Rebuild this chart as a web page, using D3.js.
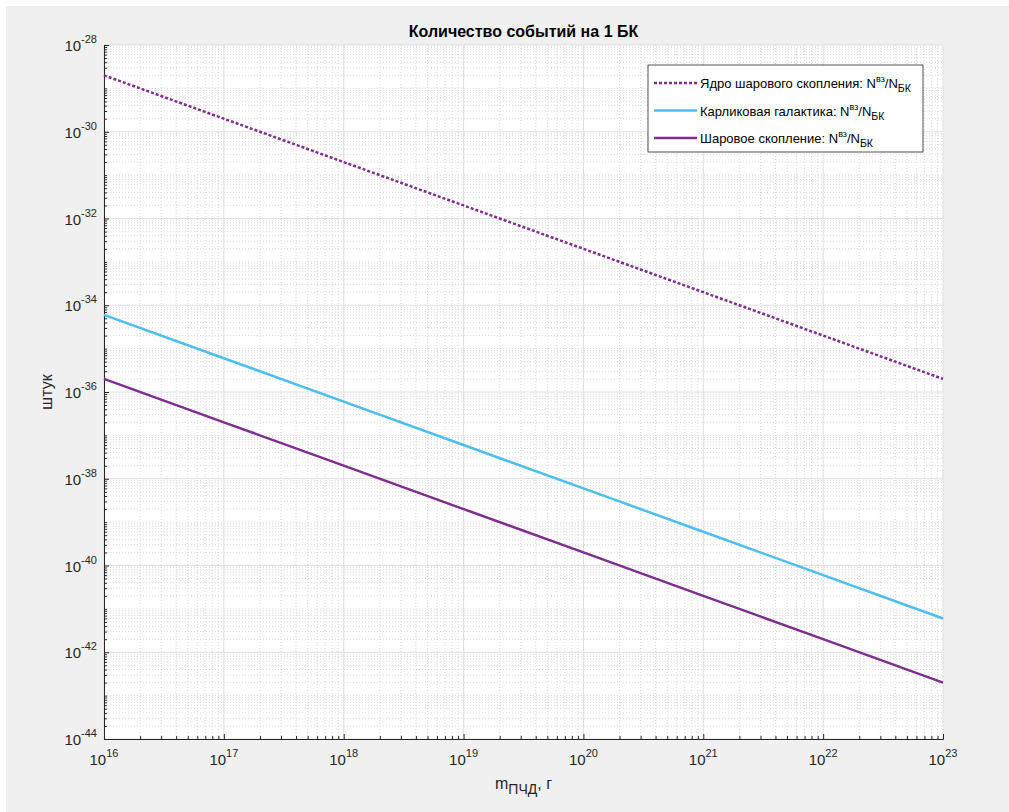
<!DOCTYPE html>
<html>
<head>
<meta charset="utf-8">
<script src="https://cdn.jsdelivr.net/npm/d3@7"></script>
<style>
body { margin: 0; background: #fff; font-family: "Liberation Sans", Arial, sans-serif; }
</style>
</head>
<body>
<svg id="chart" width="1009" height="812"></svg>
<script>
// values, one per decade of mass
const mass = [1e16, 1e17, 1e18, 1e19, 1e20, 1e21, 1e22, 1e23];
const coreCluster = [2e-29, 2e-30, 2e-31, 2e-32, 2e-33, 2e-34, 2e-35, 2e-36];
const dwarfGalaxy = [6e-35, 6e-36, 6e-37, 6e-38, 6e-39, 6e-40, 6e-41, 6e-42];
const globCluster = [2e-36, 2e-37, 2e-38, 2e-39, 2e-40, 2e-41, 2e-42, 2e-43];
const seriesNames = ['Ядро шарового скопления', 'Карликовая галактика', 'Шаровое скопление'];
const xTickExp = [16, 17, 18, 19, 20, 21, 22, 23];
const yTickExp = [-44, -42, -40, -38, -36, -34, -32, -30, -28];

const svg = d3.select('#chart');
const pLeft = 104, pRight = 943, pTop = 45, pBottom = 739;

svg.append('rect').attr('x', 6).attr('y', 6).attr('width', 1003).attr('height', 806).attr('fill', '#f0f0f0');
svg.append('rect').attr('x', pLeft).attr('y', pTop).attr('width', pRight - pLeft).attr('height', pBottom - pTop).attr('fill', '#fff');

const x = d3.scaleLog().domain([1e16, 1e23]).range([pLeft, pRight]);
const y = d3.scaleLog().domain([1e-44, 1e-28]).range([pBottom, pTop]);

// minor positions: 2..9 in each decade
function minors(lo, hi) {
    const out = [];
    for (let e = lo; e < hi; e++) {
        for (let k = 2; k <= 9; k++) out.push(k * Math.pow(10, e));
    }
    return out;
}
const xMinor = minors(16, 23);
const yMinor = minors(-44, -28).concat(d3.range(-43, -28, 2).map(e => Math.pow(10, e)));
const xMajor = xTickExp.map(e => Math.pow(10, e));
const yMajor = yTickExp.map(e => Math.pow(10, e));

const grid = svg.append('g');
grid.selectAll('.xmin').data(xMinor).enter().append('line')
    .attr('x1', d => x(d)).attr('x2', d => x(d)).attr('y1', pTop).attr('y2', pBottom)
    .attr('stroke', '#d0d0d0').attr('stroke-width', 0.8).attr('stroke-dasharray', '1,2');
grid.selectAll('.ymin').data(yMinor).enter().append('line')
    .attr('y1', d => y(d)).attr('y2', d => y(d)).attr('x1', pLeft).attr('x2', pRight)
    .attr('stroke', '#d0d0d0').attr('stroke-width', 0.8).attr('stroke-dasharray', '1,2');
grid.selectAll('.xmaj').data(xMajor).enter().append('line')
    .attr('x1', d => x(d)).attr('x2', d => x(d)).attr('y1', pTop).attr('y2', pBottom)
    .attr('stroke', '#dedede').attr('stroke-width', 1);
grid.selectAll('.ymaj').data(yMajor).enter().append('line')
    .attr('y1', d => y(d)).attr('y2', d => y(d)).attr('x1', pLeft).attr('x2', pRight)
    .attr('stroke', '#dedede').attr('stroke-width', 1);

// axes
const xAxis = svg.append('g').attr('transform', `translate(0, ${pBottom})`)
    .call(d3.axisBottom(x).tickValues(xMajor).tickFormat('').tickSizeInner(-5).tickSizeOuter(0));
const xAxisMinor = svg.append('g').attr('transform', `translate(0, ${pBottom})`)
    .call(d3.axisBottom(x).tickValues(xMinor).tickFormat('').tickSizeInner(-3).tickSizeOuter(0));
const yAxis = svg.append('g').attr('transform', `translate(${pLeft}, 0)`)
    .call(d3.axisLeft(y).tickValues(yMajor).tickFormat('').tickSizeInner(-5).tickSizeOuter(0));
const yAxisMinor = svg.append('g').attr('transform', `translate(${pLeft}, 0)`)
    .call(d3.axisLeft(y).tickValues(yMinor).tickFormat('').tickSizeInner(-3).tickSizeOuter(0));
[xAxis, xAxisMinor, yAxis, yAxisMinor].forEach(a => {
    a.select('.domain').attr('stroke', '#262626');
    a.selectAll('.tick line').attr('stroke', '#262626');
});

// tick labels 10^n
xTickExp.forEach(e => {
    const t = svg.append('text').attr('x', x(Math.pow(10, e))).attr('y', pBottom + 26)
        .attr('text-anchor', 'middle').attr('font-size', 15).attr('fill', '#262626');
    t.append('tspan').text('10');
    t.append('tspan').attr('dy', -8).attr('font-size', 11).text(e);
});
yTickExp.forEach(e => {
    const t = svg.append('text').attr('x', pLeft - 7).attr('y', y(Math.pow(10, e)) + 6)
        .attr('text-anchor', 'end').attr('font-size', 15).attr('fill', '#262626');
    t.append('tspan').text('10');
    t.append('tspan').attr('dy', -8).attr('font-size', 11).text(e);
});

// titles
svg.append('text').attr('x', (pLeft + pRight) / 2).attr('y', 37).attr('text-anchor', 'middle')
    .attr('font-size', 16).attr('font-weight', 'bold').attr('fill', '#000')
    .text('Количество событий на 1 БК');
const xl = svg.append('text').attr('x', (pLeft + pRight) / 2).attr('y', 789).attr('text-anchor', 'middle')
    .attr('font-size', 16).attr('fill', '#262626');
xl.append('tspan').text('m');
xl.append('tspan').attr('dy', 5).attr('font-size', 14).text('ПЧД');
xl.append('tspan').attr('dy', -5).text(', г');
svg.append('text').attr('transform', `translate(52, ${(pTop + pBottom) / 2}) rotate(-90)`)
    .attr('text-anchor', 'middle').attr('font-size', 16).attr('fill', '#262626').text('штук');

// lines
const series = [
    { name: seriesNames[0], values: coreCluster, color: '#7e2f8e', dash: '3,2', width: 2.5 },
    { name: seriesNames[1], values: dwarfGalaxy, color: '#4dbeee', dash: null, width: 2.5 },
    { name: seriesNames[2], values: globCluster, color: '#7e2f8e', dash: null, width: 2.5 }
];
const line = d3.line().x(d => x(d[0])).y(d => y(d[1]));
series.forEach(s => {
    svg.append('path')
        .datum(mass.map((m, i) => [m, s.values[i]]))
        .attr('fill', 'none').attr('stroke', s.color).attr('stroke-width', s.width)
        .attr('stroke-dasharray', s.dash).attr('d', line);
});

// legend
const lg = svg.append('g');
lg.append('rect').attr('x', 648).attr('y', 65).attr('width', 275).attr('height', 87)
    .attr('fill', '#fff').attr('stroke', '#262626').attr('stroke-width', 0.8);
series.forEach((s, i) => {
    const ly = 83 + i * 27.5;
    lg.append('line').attr('x1', 654).attr('x2', 697).attr('y1', ly).attr('y2', ly)
        .attr('stroke', s.color).attr('stroke-width', s.width).attr('stroke-dasharray', s.dash);
    const t = lg.append('text').attr('x', 700).attr('y', ly + 5).attr('font-size', 13).attr('fill', '#000');
    t.append('tspan').text(s.name + ': N');
    t.append('tspan').attr('dy', -6).attr('font-size', 9).text('вз');
    t.append('tspan').attr('dy', 6).text('/N');
    t.append('tspan').attr('dy', 4).attr('font-size', 10.5).text('БК');
});
</script>
</body>
</html>
